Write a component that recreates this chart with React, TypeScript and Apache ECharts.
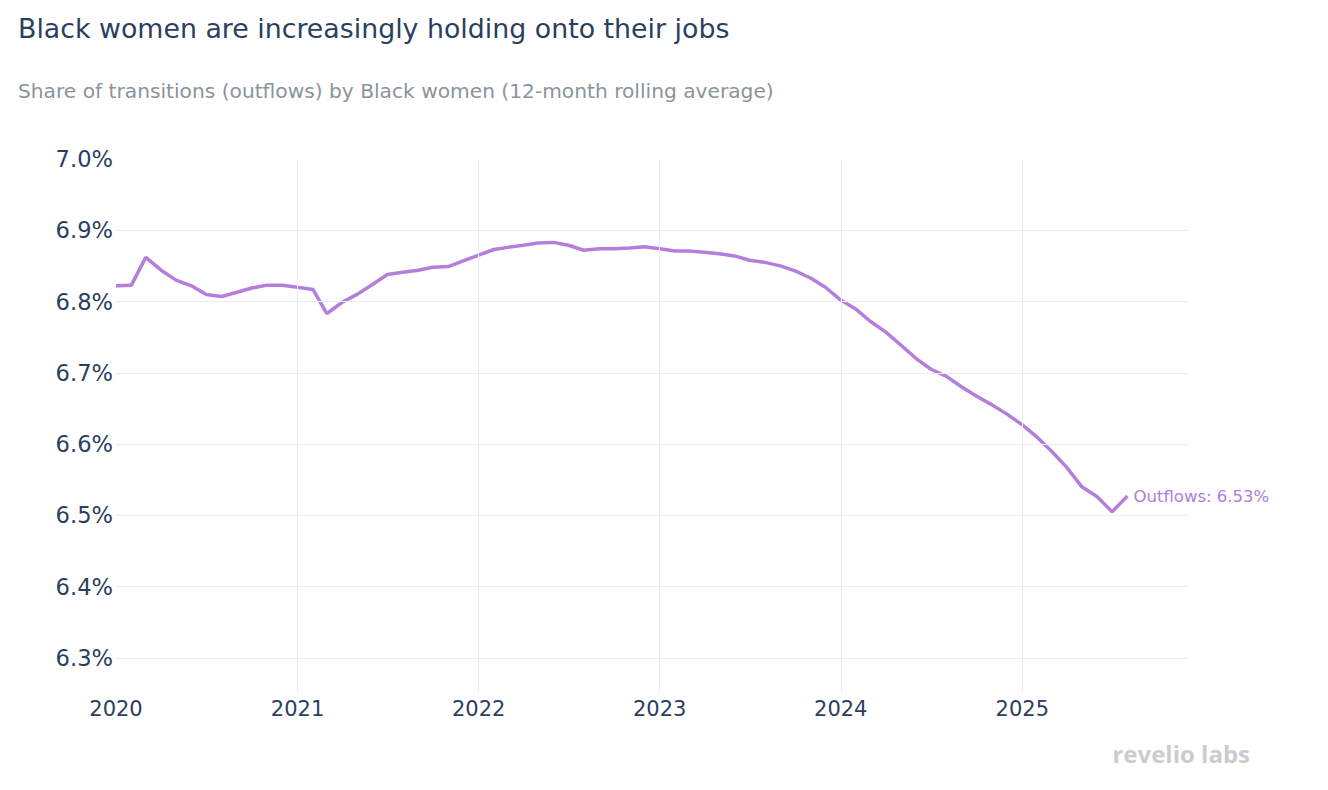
import React, { useEffect, useRef } from "react";
import * as echarts from "echarts";

const TITLE = "Black women are increasingly holding onto their jobs";
const SUBTITLE = "Share of transitions (outflows) by Black women (12-month rolling average)";
const SERIES_NAME = "Outflows";
const WATERMARK = "revelio labs";

const months = [
  "2020-01", "2020-02", "2020-03", "2020-04", "2020-05", "2020-06", "2020-07", "2020-08", "2020-09", "2020-10", "2020-11", "2020-12",
  "2021-01", "2021-02", "2021-03", "2021-04", "2021-05", "2021-06", "2021-07", "2021-08", "2021-09", "2021-10", "2021-11", "2021-12",
  "2022-01", "2022-02", "2022-03", "2022-04", "2022-05", "2022-06", "2022-07", "2022-08", "2022-09", "2022-10", "2022-11", "2022-12",
  "2023-01", "2023-02", "2023-03", "2023-04", "2023-05", "2023-06", "2023-07", "2023-08", "2023-09", "2023-10", "2023-11", "2023-12",
  "2024-01", "2024-02", "2024-03", "2024-04", "2024-05", "2024-06", "2024-07", "2024-08", "2024-09", "2024-10", "2024-11", "2024-12",
  "2025-01", "2025-02", "2025-03", "2025-04", "2025-05", "2025-06", "2025-07", "2025-08",
];

const outflows = [
  6.822, 6.823, 6.862, 6.844, 6.830, 6.822, 6.810, 6.807, 6.813, 6.819, 6.823, 6.823,
  6.820, 6.817, 6.783, 6.799, 6.810, 6.824, 6.838, 6.841, 6.844, 6.848, 6.849, 6.857,
  6.865, 6.873, 6.876, 6.879, 6.882, 6.883, 6.879, 6.872, 6.874, 6.874, 6.875, 6.877,
  6.874, 6.871, 6.871, 6.869, 6.867, 6.864, 6.858, 6.855, 6.850, 6.843, 6.833, 6.820,
  6.802, 6.789, 6.772, 6.757, 6.739, 6.720, 6.705, 6.695, 6.680, 6.667, 6.655, 6.642,
  6.627, 6.609, 6.590, 6.567, 6.540, 6.526, 6.505, 6.527,
];

// gridline positions (tick values)
const yGridTicks = [6.3, 6.4, 6.5, 6.6, 6.7, 6.8, 6.9];
const xGridTicks = ["2021-01-01", "2022-01-01", "2023-01-01", "2024-01-01", "2025-01-01"];

const X_MIN = "2020-01-01";
const X_MAX = "2025-12-01";
const Y_MIN = 6.25;
const Y_MAX = 7.0;

const FONT = "'DejaVu Sans', Verdana, sans-serif";
const INK = "#2a3f5f";
const GRID = "#ececf1";
const LINE = "#b57edc";

export default function App() {
  const ref = useRef<HTMLDivElement>(null);

  useEffect(() => {
    if (!ref.current) return;
    const chart = echarts.init(ref.current, null, { renderer: "svg" });
    const last = outflows[outflows.length - 1];
    const seriesData = months.map((m, i) => [m, outflows[i]]);
    chart.setOption({
      animation: false,
      backgroundColor: "#ffffff",
      textStyle: { fontFamily: FONT },
      title: [
        {
          text: TITLE,
          left: 18,
          top: 15,
          padding: 0,
          textStyle: { fontFamily: FONT, fontSize: 26.8, fontWeight: "normal", color: INK },
        },
        {
          text: SUBTITLE,
          left: 18,
          top: 81,
          padding: 0,
          textStyle: { fontFamily: FONT, fontSize: 20.2, fontWeight: "normal", color: "#8a949c" },
        },
      ],
      graphic: [
        {
          type: "text",
          right: 78,
          top: 741,
          style: {
            text: WATERMARK,
            fontFamily: "'Open Sans', sans-serif",
            fontSize: 24,
            fontWeight: "bold",
            fill: "#cbcbd0",
          },
        },
      ],
      grid: { left: 116, right: 140, top: 159, bottom: 96.5, containLabel: false },
      xAxis: {
        type: "time",
        min: X_MIN,
        max: X_MAX,
        splitNumber: 6,
        minInterval: 365 * 86400000,
        maxInterval: 366 * 86400000,
        axisLine: { show: false },
        axisTick: { show: false },
        axisLabel: {
          formatter: "{yyyy}",
          fontFamily: FONT,
          fontSize: 21,
          color: INK,
          margin: 5,
          showMinLabel: true,
          showMaxLabel: false,
        },
        splitLine: { show: false },
      },
      yAxis: {
        type: "value",
        min: Y_MIN,
        max: Y_MAX,
        splitNumber: 8,
        axisLine: { show: false },
        axisTick: { show: false },
        axisLabel: {
          fontFamily: FONT,
          fontSize: 22.6,
          color: INK,
          margin: 3,
          showMinLabel: false,
          formatter: (v: number) =>
            Math.abs(v * 10 - Math.round(v * 10)) > 1e-6 ? "" : v.toFixed(1) + "%",
        },
        splitLine: { show: false },
      },
      series: [
        {
          name: "grid",
          type: "line",
          z: 1,
          silent: true,
          data: seriesData,
          showSymbol: false,
          symbol: "none",
          lineStyle: { opacity: 0 },
          tooltip: { show: false },
          markLine: {
            silent: true,
            symbol: ["none", "none"],
            label: { show: false },
            lineStyle: { type: "solid", color: GRID, width: 1 },
            data: [
              ...yGridTicks.map((v) => ({ yAxis: v })),
              ...xGridTicks.map((d) => ({ xAxis: d })),
            ],
          },
        },
        {
          name: SERIES_NAME,
          type: "line",
          z: 3,
          data: seriesData,
          showSymbol: false,
          symbol: "none",
          lineStyle: { color: LINE, width: 3.5 },
          itemStyle: { color: LINE },
          endLabel: {
            show: true,
            formatter: () => `${SERIES_NAME}: ${last.toFixed(2)}%`,
            fontFamily: FONT,
            fontSize: 16.5,
            color: "#b07ddb",
            distance: 6,
          },
        },
      ],
    });
    return () => chart.dispose();
  }, []);

  return (
    <div
      ref={ref}
      style={{ position: "fixed", left: 0, top: 0, width: 1328, height: 790 }}
    />
  );
}
